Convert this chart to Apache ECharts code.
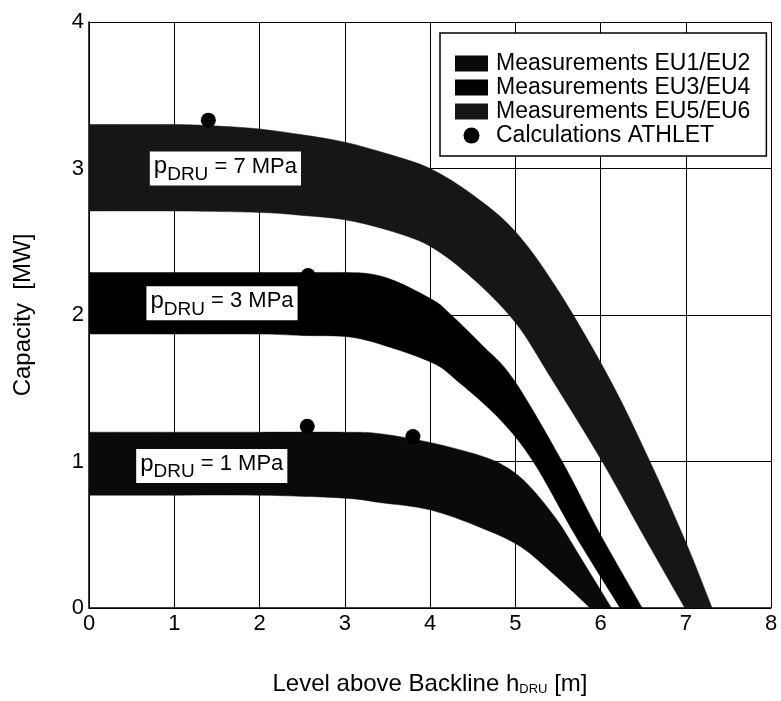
<!DOCTYPE html>
<html>
<head>
<meta charset="utf-8">
<script src="https://cdn.jsdelivr.net/npm/echarts@6/dist/echarts.min.js"></script>
<style>
  html, body { margin: 0; padding: 0; background: #fff; }
  #chart { width: 781px; height: 701px; }
</style>
</head>
<body>
<div id="chart"></div>
<script>
// Capacity envelopes (upper and lower edge) per drum pressure, [h (m), capacity (MW)]
const band7Upper = [[0, 3.30], [1, 3.30], [1.5, 3.29], [2, 3.27], [2.5, 3.23], [3, 3.18], [3.5, 3.10], [4, 3.00], [4.5, 2.82], [5, 2.57], [5.5, 2.17], [6.11, 1.56], [6.58, 1.00], [7.0, 0.45], [7.31, 0]];
const band7Lower = [[0, 2.71], [1, 2.71], [2, 2.70], [2.5, 2.68], [3, 2.65], [3.5, 2.58], [4, 2.47], [4.5, 2.25], [5.0, 1.95], [5.43, 1.56], [6.02, 1.00], [6.5, 0.50], [6.99, 0]];
const band3Upper = [[0, 2.29], [1, 2.29], [2, 2.29], [2.5, 2.29], [3.0, 2.29], [3.3, 2.28], [3.6, 2.23], [4.04, 2.10], [4.23, 2.01], [4.6, 1.80], [4.98, 1.56], [5.55, 1.00], [6.0, 0.50], [6.49, 0]];
const band3Lower = [[0, 1.87], [1, 1.87], [2, 1.87], [2.5, 1.86], [3.06, 1.85], [3.53, 1.78], [4.04, 1.67], [4.3, 1.56], [4.8, 1.30], [5.21, 1.00], [5.7, 0.50], [6.23, 0]];
const band1Upper = [[0, 1.20], [1, 1.20], [2, 1.20], [3, 1.20], [3.41, 1.19], [4.0, 1.13], [4.59, 1.04], [4.9, 0.96], [5.17, 0.83], [5.49, 0.60], [5.76, 0.35], [6.13, 0]];
const band1Lower = [[0, 0.77], [1, 0.77], [2, 0.77], [3, 0.75], [3.41, 0.72], [4.0, 0.67], [4.59, 0.55], [5.06, 0.42], [5.49, 0.21], [5.88, 0]];

// ATHLET calculation points
const athletPoints = [[1.40, 3.33], [2.57, 2.27], [2.56, 1.24], [3.80, 1.17]];

// Pressure annotations [h, capacity, pressure in MPa]
const pressureLabels = [[1.60, 3.00, '7'], [1.56, 2.08, '3'], [1.44, 0.97, '1']];

const xTicks = [0, 1, 2, 3, 4, 5, 6, 7, 8];
const yTicks = [0, 1, 2, 3, 4];

const seriesNames = ['Measurements EU1/EU2', 'Measurements EU3/EU4', 'Measurements EU5/EU6', 'Calculations ATHLET'];

const FONT = 'Liberation Sans, Arial, sans-serif';

// Catmull-Rom curve through pixel points, as SVG path commands (without the initial move)
function curveThrough(pts) {
  let d = '';
  for (let i = 0; i < pts.length - 1; i++) {
    const p0 = pts[Math.max(i - 1, 0)];
    const p1 = pts[i];
    const p2 = pts[i + 1];
    const p3 = pts[Math.min(i + 2, pts.length - 1)];
    const c1x = p1[0] + (p2[0] - p0[0]) / 6;
    const c1y = p1[1] + (p2[1] - p0[1]) / 6;
    const c2x = p2[0] - (p3[0] - p1[0]) / 6;
    const c2y = p2[1] - (p3[1] - p1[1]) / 6;
    d += ' C' + c1x + ',' + c1y + ' ' + c2x + ',' + c2y + ' ' + p2[0] + ',' + p2[1];
  }
  return d;
}

// Filled envelope between an upper and a lower edge
function bandSeries(name, upper, lower, color) {
  return {
    name: name,
    type: 'custom',
    z: 2,
    clip: true,
    itemStyle: { color: color },
    data: upper.concat(lower),
    encode: { x: 0, y: 1 },
    renderItem: function (params, api) {
      if (params.dataIndex !== 0) return null;
      const up = upper.map(function (p) { return api.coord(p); });
      const lo = lower.slice().reverse().map(function (p) { return api.coord(p); });
      const d = 'M' + up[0][0] + ',' + up[0][1] + curveThrough(up) +
        ' L' + lo[0][0] + ',' + lo[0][1] + curveThrough(lo) + ' Z';
      return {
        type: 'path',
        shape: { pathData: d },
        style: { fill: color, stroke: color, lineWidth: 0.5 }
      };
    }
  };
}

const chart = echarts.init(document.getElementById('chart'), null, { renderer: 'canvas' });

const option = {
  backgroundColor: '#fff',
  animation: false,
  grid: { left: 89, right: 10, top: 22, bottom: 93, containLabel: false },
  xAxis: {
    type: 'value', min: 0, max: 8, interval: 1,
    name: 'Level above Backline h{sub|DRU} [m]',
    nameLocation: 'middle', nameGap: 64,
    nameTextStyle: {
      color: '#000', fontFamily: FONT, fontSize: 24,
      rich: { sub: { fontSize: 13, fontFamily: FONT, color: '#000', padding: [11, 0, 0, 0] } }
    },
    axisLine: { show: true, lineStyle: { color: '#000', width: 1.5 } },
    axisTick: { show: false },
    axisLabel: { color: '#000', fontFamily: FONT, fontSize: 22, margin: 5,
      formatter: function (v) { return xTicks.indexOf(v) >= 0 ? String(v) : ''; } },
    splitLine: { show: true, lineStyle: { color: '#000', width: 1 } }
  },
  yAxis: {
    type: 'value', min: 0, max: 4, interval: 1,
    name: 'Capacity  [MW]',
    nameLocation: 'middle', nameGap: 54,
    nameTextStyle: { color: '#000', fontFamily: FONT, fontSize: 24 },
    axisLine: { show: true, lineStyle: { color: '#000', width: 1.5 } },
    axisTick: { show: false },
    axisLabel: { color: '#000', fontFamily: FONT, fontSize: 22, margin: 5,
      formatter: function (v) { return yTicks.indexOf(v) >= 0 ? String(v) : ''; } },
    splitLine: { show: true, lineStyle: { color: '#000', width: 1 } }
  },
  legend: {
    orient: 'vertical',
    left: 440, top: 33,
    backgroundColor: '#fff',
    borderColor: '#000', borderWidth: 1.5,
    padding: [19, 16, 9, 15],
    itemWidth: 33, itemHeight: 16, itemGap: 1,
    textStyle: { color: '#000', fontFamily: FONT, fontSize: 23, lineHeight: 20, padding: [0, 0, 0, 3] },
    data: [
      { name: seriesNames[0], icon: 'rect' },
      { name: seriesNames[1], icon: 'rect' },
      { name: seriesNames[2], icon: 'rect' },
      { name: seriesNames[3], icon: 'circle' }
    ]
  },
  series: [
    bandSeries(seriesNames[0], band1Upper, band1Lower, '#0a0a0a'),
    bandSeries(seriesNames[1], band3Upper, band3Lower, '#000000'),
    bandSeries(seriesNames[2], band7Upper, band7Lower, '#161616'),
    {
      name: seriesNames[3],
      type: 'scatter',
      z: 3,
      symbol: 'circle',
      symbolSize: 15,
      itemStyle: { color: '#000', opacity: 1 },
      data: athletPoints
    },
    {
      name: 'pressure',
      type: 'scatter',
      z: 4,
      symbolSize: 0,
      silent: true,
      itemStyle: { opacity: 1 },
      data: pressureLabels.map(function (d) { return [d[0], d[1]]; }),
      label: {
        show: true,
        position: 'inside',
        opacity: 1,
        backgroundColor: '#fff',
        padding: [4, 4, 2, 4],
        color: '#000',
        fontFamily: FONT,
        fontSize: 22,
        formatter: function (params) {
          return '{p|p}{sub|DRU}{t| = ' + pressureLabels[params.dataIndex][2] + ' MPa}';
        },
        rich: {
          p: { fontFamily: FONT, fontSize: 24, color: '#000', lineHeight: 28, padding: [0, 0, 6, 0] },
          sub: { fontFamily: FONT, fontSize: 19, color: '#000', lineHeight: 28, padding: [10, 0, 0, 0] },
          t: { fontFamily: FONT, fontSize: 22, color: '#000', lineHeight: 28, padding: [0, 0, 6, 0] }
        }
      }
    }
  ]
};

chart.setOption(option);
</script>
</body>
</html>
